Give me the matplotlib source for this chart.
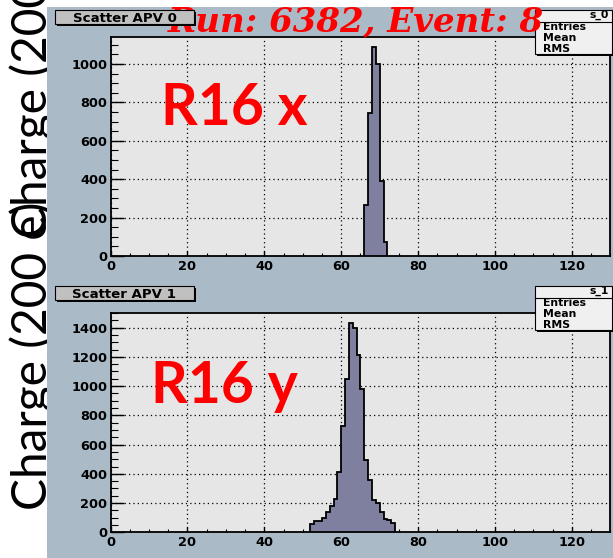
import numpy as np
import matplotlib
matplotlib.use('Agg')
import matplotlib.pyplot as plt
from matplotlib.patches import Rectangle
from matplotlib.lines import Line2D
from matplotlib.ticker import MultipleLocator, FixedLocator

W, H = 613, 558

# ---------------- data ----------------
top_edges = [66, 67, 68, 69, 70, 71, 72]
top_counts = [266, 743, 1088, 999, 391, 74]

bot_edges = [52, 53, 54, 55, 56, 57, 58, 59, 60, 61, 62, 63, 64, 65, 66, 67,
             68, 69, 70, 71, 72, 73, 74]
bot_counts = [55, 75, 80, 100, 137, 182, 228, 410, 730, 1051, 1434, 1400,
              1216, 982, 492, 358, 219, 198, 137, 93, 84, 66]

x_ticks = [0, 20, 40, 60, 80, 100, 120]
top_yticks = [0, 200, 400, 600, 800, 1000]
bot_yticks = [0, 200, 400, 600, 800, 1000, 1200, 1400]

panel_titles = ["Scatter APV 0", "Scatter APV 1"]
stat_names = ["s_0", "s_1"]
stat_rows = ["Entries", "Mean", "RMS"]
big_labels = ["R16 x", "R16 y"]
run_title = "Run: 6382, Event: 8"
side_label = "Charge (200 e)"

FILL = '#7f7f9f'
AX_BG = '#e6e6e6'
FIG_BG = '#aabac6'


def fx(x):
    return x / W


def fy(y):
    return 1 - y / H


fig = plt.figure(figsize=(6.13, 5.58), dpi=100, facecolor='white')

# side labels (behind the chart image)
for y0 in [510, 238]:
    fig.text(fx(48), fy(y0), side_label, rotation=90, rotation_mode='anchor',
             ha='left', va='baseline', fontsize=34.5, family='Lato',
             color='black', zorder=-3)

# chart background
fig.add_artist(Rectangle((fx(47), 0), 1 - fx(47), fy(7), transform=fig.transFigure,
                         facecolor=FIG_BG, edgecolor='none', zorder=-2))


def make_axes(top_px, bot_px, edges, counts, ymax, yticks):
    ax = fig.add_axes([fx(110.6), fy(bot_px), (610.3 - 110.6) / W, (bot_px - top_px) / H])
    ax.set_facecolor(AX_BG)
    ax.stairs(counts, edges, fill=True, facecolor=FILL, edgecolor='none', zorder=2)
    ax.stairs(counts, edges, color='black', linewidth=1.3, baseline=0, zorder=3)
    ax.set_xlim(0, 130)
    ax.set_ylim(0, ymax)
    ax.xaxis.set_major_locator(FixedLocator(x_ticks))
    ax.xaxis.set_minor_locator(MultipleLocator(5))
    ax.yaxis.set_major_locator(FixedLocator(yticks))
    ax.yaxis.set_minor_locator(MultipleLocator(50))
    ax.set_axisbelow(True)
    ax.grid(True, which='major', color='black', linestyle=(0, (1, 2.5)), linewidth=0.9)
    ax.tick_params(which='both', direction='in', top=False, right=False, colors='black')
    ax.tick_params(axis='y', which='major', length=9.5, width=1.0, pad=2.5)
    ax.tick_params(axis='y', which='minor', length=5, width=0.8)
    ax.tick_params(axis='x', which='major', length=3.6, width=1.0, pad=3)
    ax.tick_params(axis='x', which='minor', length=2.2, width=0.8)
    for lab in ax.get_xticklabels() + ax.get_yticklabels():
        lab.set_fontfamily('DejaVu Sans')
        lab.set_fontweight('bold')
        lab.set_fontsize(9.3)
    for s in ax.spines.values():
        s.set_linewidth(1.3)
        s.set_color('black')
    return ax


ax_top = make_axes(36.7, 256.0, top_edges, top_counts, 1142, top_yticks)
ax_bot = make_axes(312.7, 532.3, bot_edges, bot_counts, 1502, bot_yticks)

# big red labels
fig.text(fx(161), fy(125), big_labels[0], color='#ff0000', fontsize=41, family='Lato',
         weight='bold', ha='left', va='baseline', zorder=9)
fig.text(fx(151), fy(403), big_labels[1], color='#ff0000', fontsize=41, family='Lato',
         weight='bold', ha='left', va='baseline', zorder=9)


def box(x0, y0, x1, y1, face, z, shadow=2):
    fig.add_artist(Rectangle((fx(x0 + shadow), fy(y1 + shadow)), (x1 - x0) / W, (y1 - y0) / H,
                             transform=fig.transFigure, facecolor='black',
                             edgecolor='none', zorder=z))
    fig.add_artist(Rectangle((fx(x0), fy(y1)), (x1 - x0) / W, (y1 - y0) / H,
                             transform=fig.transFigure, facecolor=face,
                             edgecolor='black', linewidth=0.8, zorder=z + 0.1))


for i, dy in enumerate([0, 276]):
    # stats box
    box(535, 10 + dy, 612, 54 + dy, '#f0f0f0', 5)
    fig.add_artist(Line2D([fx(535), fx(612)], [fy(21.5 + dy), fy(21.5 + dy)],
                          transform=fig.transFigure, color='black', linewidth=0.8, zorder=5.2))
    fig.text(fx(609), fy(18 + dy), stat_names[i], ha='right', va='baseline',
             family='DejaVu Sans', weight='bold', fontsize=7.8, zorder=8)
    for j, row in enumerate(stat_rows):
        fig.text(fx(543), fy(30.5 + 10.7 * j + dy), row, ha='left', va='baseline',
                 family='DejaVu Sans', weight='bold', fontsize=7.8, zorder=8)
    # panel title box
    box(55, 10 + dy, 194, 24 + dy, '#c0c0c0', 7)
    fig.text(fx(124.5), fy(17 + dy), panel_titles[i], ha='center', va='center_baseline',
             family='DejaVu Sans', weight='bold', fontsize=9.6, zorder=8)

# run title
fig.text(fx(168), fy(31), run_title, ha='left', va='baseline', color='red',
         family='DejaVu Serif', style='italic', weight='bold', fontsize=24.5, zorder=6)

fig.savefig('out.png', dpi=100, facecolor='white')
